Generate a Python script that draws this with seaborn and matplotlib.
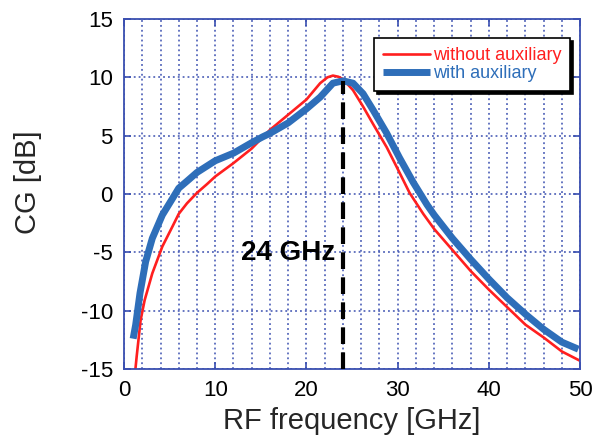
import matplotlib
matplotlib.use("Agg")
import matplotlib.pyplot as plt
import seaborn as sns
import pandas as pd

# 读取自图中的数据点
freq_red = [1.25, 1.39, 1.82, 2.26, 3.1, 4.2, 5.3, 6.0, 6.9, 8.0, 9.1, 10.0, 12.0, 14.0,
            16.0, 18.0, 20.0, 21.5, 22.3, 22.9, 23.5, 24.0, 25.1, 26.2, 27.3, 28.8, 29.9,
            31.3, 32.8, 34.0, 36.0, 38.0, 40.0, 42.0, 44.0, 46.0, 48.0, 50.0]
cg_red = [-15.0, -13.9, -10.8, -9.1, -6.8, -4.5, -2.8, -1.7, -0.8, 0.1, 0.85, 1.5, 2.65, 3.9,
          5.5, 6.8, 8.1, 9.5, 10.0, 10.15, 10.05, 9.85, 8.9, 7.5, 6.0, 4.0, 2.3,
          0.1, -1.7, -3.0, -4.8, -6.6, -8.2, -9.7, -11.2, -12.3, -13.5, -14.3]

freq_blue = [1.0, 1.28, 1.75, 2.37, 3.1, 4.2, 5.3, 6.0, 6.9, 8.0, 9.1, 10.0, 12.0, 14.0,
             15.2, 16.0, 18.0, 20.0, 21.5, 22.9, 24.0, 25.1, 26.2, 27.3, 28.8, 30.2, 31.7,
             33.2, 34.0, 36.0, 38.0, 40.0, 42.0, 44.0, 46.0, 48.0, 49.8]
cg_blue = [-12.4, -11.2, -8.5, -5.8, -3.8, -1.8, -0.4, 0.5, 1.1, 1.85, 2.4, 2.85, 3.5, 4.4,
           4.9, 5.2, 6.1, 7.3, 8.3, 9.5, 9.7, 9.5, 8.6, 7.2, 5.2, 3.1, 1.0,
           -0.9, -1.8, -3.8, -5.6, -7.3, -8.9, -10.3, -11.6, -12.7, -13.3]

labels = ["without auxiliary", "with auxiliary"]
peak_freq = 24
peak_cg = 9.7
peak_label = "24 GHz"

x_ticks = [0, 10, 20, 30, 40, 50]
y_ticks = [-15, -10, -5, 0, 5, 10, 15]

RED = "#FF1F1F"
BLUE = "#2E6EB9"
FRAME = "#3A4FB0"

sns.set_theme(style="white")
plt.rcParams['font.family'] = ['Liberation Sans', 'DejaVu Sans']
plt.rcParams['axes.unicode_minus'] = False

df_red = pd.DataFrame({"freq": freq_red, "cg": cg_red})
df_blue = pd.DataFrame({"freq": freq_blue, "cg": cg_blue})

fig, ax = plt.subplots(figsize=(5.92, 4.37), dpi=100)
fig.subplots_adjust(left=0.2095, right=0.98, bottom=0.1556, top=0.9565)

sns.lineplot(data=df_red, x="freq", y="cg", color=RED, linewidth=1.9,
             label=labels[0], ax=ax, sort=False)
sns.lineplot(data=df_blue, x="freq", y="cg", color=BLUE, linewidth=5.0,
             label=labels[1], ax=ax, sort=False, solid_capstyle="butt")

# 24 GHz 峰值标记
ax.vlines(peak_freq, y_ticks[0], peak_cg, colors="black", linewidth=3.0,
          linestyles=(0, (4, 2)), zorder=5)
ax.text(23.2, -5.05, peak_label, ha="right", va="center", fontsize=20,
        fontweight="bold", color="black")

ax.set_xlim(0, 50)
ax.set_ylim(-15, 15)
ax.set_xticks(x_ticks)
ax.set_yticks(y_ticks)
ax.set_xticks(range(0, 51, 2), minor=True)

ax.grid(True, which="both", axis="x", color=FRAME, linestyle=(0, (1.2, 2)), linewidth=1.1)
ax.grid(True, which="major", axis="y", color=FRAME, linestyle=(0, (1.2, 2)), linewidth=1.1)

for s in ax.spines.values():
    s.set_color(FRAME)
    s.set_linewidth(1.3)

ax.tick_params(which="major", direction="in", length=5, width=1.2, color=FRAME,
               labelsize=16, labelcolor="black", pad=8, right=True, top=True,
               bottom=True, left=True)
ax.tick_params(which="minor", length=0)

ax.set_xlabel("RF frequency [GHz]", fontsize=21, labelpad=4)
ax.set_ylabel("CG [dB]", fontsize=21)
ax.yaxis.set_label_coords(-0.18, 0.534)

leg = ax.legend(loc="upper right", bbox_to_anchor=(0.978, 0.946), fontsize=13,
                frameon=True, fancybox=False, edgecolor="black", facecolor="white",
                framealpha=1, shadow={"color": "black", "alpha": 1},
                handlelength=2.6, handletextpad=0.15, labelspacing=0.05,
                borderpad=0.5, borderaxespad=0, labelcolor="linecolor")
leg.get_frame().set_linewidth(1.2)

fig.savefig("out.png", dpi=100)
